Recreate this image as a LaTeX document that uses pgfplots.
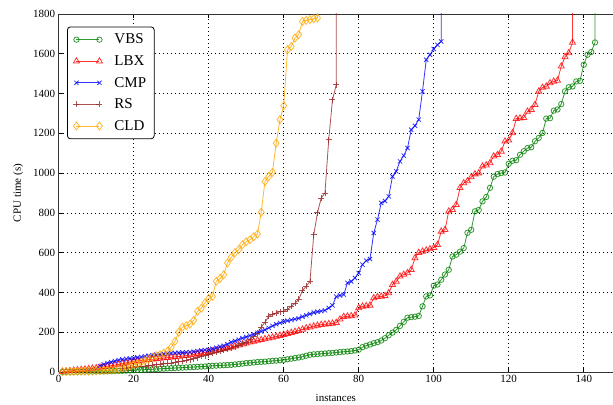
\documentclass[border=0pt]{standalone}
\usepackage{fontspec}
\setmainfont{Liberation Serif}
\usepackage{pgfplots}
\pgfplotsset{compat=1.18}

\definecolor{vbs}{rgb}{0,0.5,0}
\definecolor{lbx}{rgb}{1,0,0}
\definecolor{cmp}{rgb}{0,0,1}
\definecolor{rs}{rgb}{0.6,0.15,0.15}
\definecolor{cld}{rgb}{1,0.65,0}

\begin{document}
\begin{tikzpicture}
\begin{axis}[
    scale only axis,
    width=554.3pt, height=358pt,
    xmin=0, xmax=147.8, ymin=0, ymax=1800,
    axis x line*=box, axis y line*=left,
    xtick={0,20,...,140}, ytick={0,200,...,1800},
    xlabel={instances}, ylabel={CPU time (s)},
    xlabel style={yshift=-4pt},
    ylabel style={yshift=3pt},
    grid=major,
    major grid style={black, line width=0.6pt, dash pattern=on 1pt off 3pt},
    axis line style={black!80, line width=0.9pt, -},
    tick align=inside, major tick length=4pt,
    tick style={black, line width=0.6pt},
    /pgf/number format/assume math mode=true,
    /pgf/number format/1000 sep={},
    ticklabel style={font=\fontsize{11}{13}\selectfont},
    label style={font=\fontsize{11}{13}\selectfont},
    every axis plot/.append style={line width=0.8pt, opacity=0.8},
    legend style={at={(0.015,0.965)}, anchor=north west, draw=black,
        rounded corners=3pt, line width=0.8pt,
        nodes={font=\fontsize{15}{18}\selectfont},
        row sep=6.2pt, inner xsep=6pt, inner ysep=5pt,
        /tikz/every odd column/.append style={column sep=10pt}},
    legend cell align=left,
    legend image code/.code={\draw[mark repeat=1,#1] plot coordinates {(0pt,0pt) (23pt,0pt)};},
]
% VBS
\addplot[color=vbs, mark=o, mark size=2.7pt] coordinates {
(1,0.5)(2,0.8)(3,1)(4,1.2)(5,1.5)(6,1.8)(7,2)(8,2.3)(9,2.6)(10,3)
(11,3.3)(12,3.6)(13,4)(14,4.5)(15,5)(16,5.5)(17,6)(18,7)(19,8)(20,9)
(21,10)(22,11)(23,12)(24,13)(25,14)(26,15)(27,16)(28,17)(29,18)(30,19)
(31,20)(32,21)(33,22)(34,23)(35,24)(36,25)(37,26)(38,27)(39,28)(40,30)
(41,31)(42,32)(43,33)(44,34)(45,35)(46,36)(47,38)(48,40)(49,42)(50,45)
(51,46)(52,48)(53,50)(54,51)(55,52)(56,54)(57,56)(58,57)(59,59)(60,61)
(61,64)(62,67)(63,70)(64,73)(65,77)(66,82)(67,87)(68,89)(69,90)(70,92)
(71,93)(72,95)(73,96)(74,98)(75,100)(76,102)(77,103)(78,105)(79,108)(80,112)
(81,125)(82,132)(83,138)(84,145)(85,150)(86,158)(87,170)(88,185)(89,198)(90,212)
(91,232)(92,252)(93,273)(94,276)(95,278)(96,282)(97,330)(98,380)(99,385)(100,434)
(101,440)(102,464)(103,490)(104,514)(105,581)(106,590)(107,605)(108,623)(109,700)(110,715)
(111,808)(112,815)(113,858)(114,880)(115,926)(116,982)(117,995)(118,1000)(119,1003)(120,1047)
(121,1062)(122,1065)(123,1092)(124,1110)(125,1126)(126,1130)(127,1160)(128,1177)(129,1202)(130,1274)
(131,1276)(132,1314)(133,1320)(134,1347)(135,1411)(136,1432)(137,1436)(138,1461)(139,1464)(140,1545)
(141,1595)(142,1609)(143,1657)(143.2,3000)
};
% LBX
\addplot[color=lbx, mark=triangle, mark size=3.5pt] coordinates {
(1,2)(2,4)(3,6)(4,8)(5,10)(6,12)(7,14)(8,16)(9,18)(10,20)
(11,23)(12,26)(13,29)(14,32)(15,35)(16,38)(17,42)(18,46)(19,50)(20,54)
(21,56)(22,58)(23,60)(24,62)(25,64)(26,66)(27,68)(28,70)(29,72)(30,74)
(31,76)(32,78)(33,80)(34,82)(35,85)(36,88)(37,92)(38,95)(39,98)(40,100)
(41,104)(42,108)(43,112)(44,116)(45,120)(46,125)(47,130)(48,135)(49,140)(50,145)
(51,150)(52,154)(53,159)(54,162)(55,166)(56,170)(57,174)(58,178)(59,183)(60,188)
(61,193)(62,198)(63,203)(64,208)(65,214)(66,221)(67,225)(68,230)(69,234)(70,238)
(71,240)(72,242)(73,244)(74,248)(75,265)(76,278)(77,280)(78,282)(79,285)(80,322)
(81,330)(82,332)(83,335)(84,372)(85,378)(86,380)(87,383)(88,397)(89,439)(90,455)
(91,481)(92,490)(93,498)(94,514)(95,573)(96,600)(97,606)(98,612)(99,618)(100,625)
(101,640)(102,707)(103,715)(104,808)(105,816)(106,841)(107,926)(108,950)(109,960)(110,980)
(111,995)(112,1000)(113,1034)(114,1040)(115,1051)(116,1085)(117,1092)(118,1109)(119,1160)(120,1165)
(121,1202)(122,1274)(123,1276)(124,1278)(125,1310)(126,1319)(127,1344)(128,1411)(129,1430)(130,1436)
(131,1453)(132,1461)(133,1466)(134,1537)(135,1584)(136,1604)(137,1657)(137.1,3000)
};
% CMP
\addplot[color=cmp, mark=x, mark size=3pt] coordinates {
(11,30)(12,38)(13,45)(14,50)(15,55)(16,60)(17,63)(18,66)(19,68)(20,70)
(21,73)(22,76)(23,79)(24,82)(25,85)(26,87)(27,89)(28,91)(29,93)(30,95)
(31,96)(32,97)(33,98)(34,99)(35,100)(36,102)(37,105)(38,108)(39,110)(40,112)
(41,117)(42,122)(43,127)(44,132)(45,140)(46,150)(47,156)(48,163)(49,170)(50,176)
(51,183)(52,190)(53,197)(54,204)(55,212)(56,222)(57,232)(58,240)(59,247)(60,254)
(61,258)(62,262)(63,266)(64,270)(65,278)(66,285)(67,292)(68,299)(69,303)(70,306)
(71,310)(72,322)(73,335)(74,379)(75,385)(76,389)(77,448)(78,455)(79,473)(80,498)
(81,540)(82,560)(83,568)(84,699)(85,766)(86,850)(87,860)(88,883)(89,983)(90,1009)
(91,1059)(92,1088)(93,1126)(94,1218)(95,1238)(96,1269)(97,1411)(98,1570)(99,1595)(100,1624)
(101,1645)(102,1662)(102.1,3000)
};
% RS
\addplot[color=rs, mark=+, mark size=3pt] coordinates {
(17,18)(18,20)(19,22)(20,24)
(21,26)(22,28)(23,30)(24,32)(25,35)(26,37)(27,39)(28,41)(29,43)(30,45)
(31,48)(32,52)(33,55)(34,58)(35,62)(36,66)(37,72)(38,78)(39,82)(40,87)
(41,95)(42,100)(43,105)(44,110)(45,114)(46,120)(47,127)(48,135)(49,142)(50,148)
(51,162)(52,180)(53,196)(54,225)(55,250)(56,280)(57,290)(58,297)(59,303)(60,305)
(61,315)(62,330)(63,345)(64,365)(65,410)(66,431)(67,456)(68,690)(69,800)(70,875)
(71,900)(72,1168)(73,1369)(74,1444)(74.1,3000)
};
% CLD
\addplot[color=cld, mark=diamond, mark size=4pt] coordinates {
(1,1)(2,1.5)(3,2)(4,2.5)(5,3)(6,3.5)(7,4)(8,4.5)(9,5)(10,6)
(11,7)(12,8)(13,9)(14,10)(15,12)(16,15)(17,20)(18,25)(19,30)(20,37)
(21,42)(22,50)(23,58)(24,65)(25,75)(26,82)(27,87)(28,95)(29,104)(30,125)
(31,154)(32,200)(33,226)(34,233)(35,240)(36,260)(37,305)(38,320)(39,347)(40,370)
(41,380)(42,456)(43,470)(44,489)(45,548)(46,576)(47,600)(48,615)(49,640)(50,655)
(51,665)(52,680)(53,694)(54,803)(55,958)(56,983)(57,1004)(58,1151)(59,1269)(60,1339)
(61,1620)(62,1636)(63,1679)(64,1696)(65,1763)(66,1768)(67,1772)(68,1776)(69,1780)(69.3,3000)
};
\legend{VBS, LBX, CMP, RS, CLD}
\end{axis}
\pgfresetboundingbox
\path ([xshift=-58.7pt,yshift=-32.3pt]current axis.south west) rectangle ([yshift=14pt]current axis.north east);
\end{tikzpicture}
\end{document}
